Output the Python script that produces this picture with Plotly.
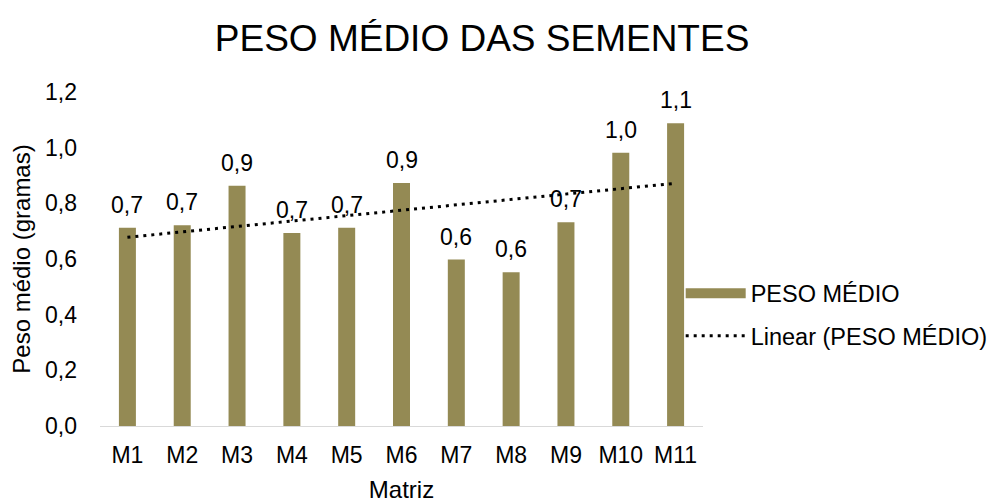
import numpy as np
import plotly.graph_objects as go

matrizes = ['M1', 'M2', 'M3', 'M4', 'M5', 'M6', 'M7', 'M8', 'M9', 'M10', 'M11']
peso_medio = [0.712, 0.721, 0.863, 0.693, 0.712, 0.873, 0.598, 0.552, 0.732, 0.982, 1.088]
y_ticks = [0.0, 0.2, 0.4, 0.6, 0.8, 1.0, 1.2]

cor_barra = '#948A54'
fonte = 'Liberation Sans, Arial, sans-serif'

# linha de tendência linear (como no Excel)
xs = np.arange(1, len(peso_medio) + 1)
a, b = np.polyfit(xs, peso_medio, 1)
tendencia = a * xs + b

fig = go.Figure()

fig.add_trace(go.Bar(
    x=matrizes, y=peso_medio,
    marker=dict(color=cor_barra, line=dict(width=0)),
    width=0.31,
    showlegend=False, legendgroup='a',
))

# entrada de legenda com símbolo largo, estilo Excel
fig.add_trace(go.Scatter(
    x=[None], y=[None], mode='lines', name='PESO MÉDIO',
    line=dict(color=cor_barra, width=11), legendgroup='a',
))

fig.add_trace(go.Scatter(
    x=matrizes, y=tendencia, mode='lines', name='Linear (PESO MÉDIO)',
    line=dict(color='#000000', width=3, dash='3px,5px'), legendgroup='b',
))

# rótulos de dados com vírgula decimal
for m, v in zip(matrizes, peso_medio):
    fig.add_annotation(
        x=m, y=v, text=f'{v:.1f}'.replace('.', ','), showarrow=False,
        yanchor='bottom', yshift=8, font=dict(size=23, color='#000000'),
    )

fig.update_layout(
    width=997, height=501,
    paper_bgcolor='white', plot_bgcolor='white',
    font=dict(family=fonte, color='#000000'),
    separators=',.',
    margin=dict(l=92, r=296, t=84, b=83),
    title=dict(text='PESO MÉDIO DAS SEMENTES', x=0.4755, xanchor='center',
               y=0.94, yanchor='middle', font=dict(size=37, color='#000000')),
    xaxis=dict(
        title=dict(text='Matriz', font=dict(size=24), standoff=14),
        tickfont=dict(size=23), showline=True, linecolor='#d9d9d9', linewidth=1,
        ticks='', showgrid=False, automargin=False, ticklabelstandoff=8,
    ),
    yaxis=dict(
        title=dict(text='Peso médio (gramas)', font=dict(size=24), standoff=8),
        range=[0, 1.2], tickvals=y_ticks, tickformat='.1f',
        tickfont=dict(size=23), showgrid=False, zeroline=False, showline=False,
        ticklabelstandoff=22, automargin=False,
    ),
    legend=dict(
        x=0.963, xanchor='left', y=0.463, yanchor='top',
        font=dict(size=23.5), itemwidth=60, traceorder='grouped',
        tracegroupgap=9, bgcolor='rgba(0,0,0,0)',
    ),
)

fig.write_html('out.html')
